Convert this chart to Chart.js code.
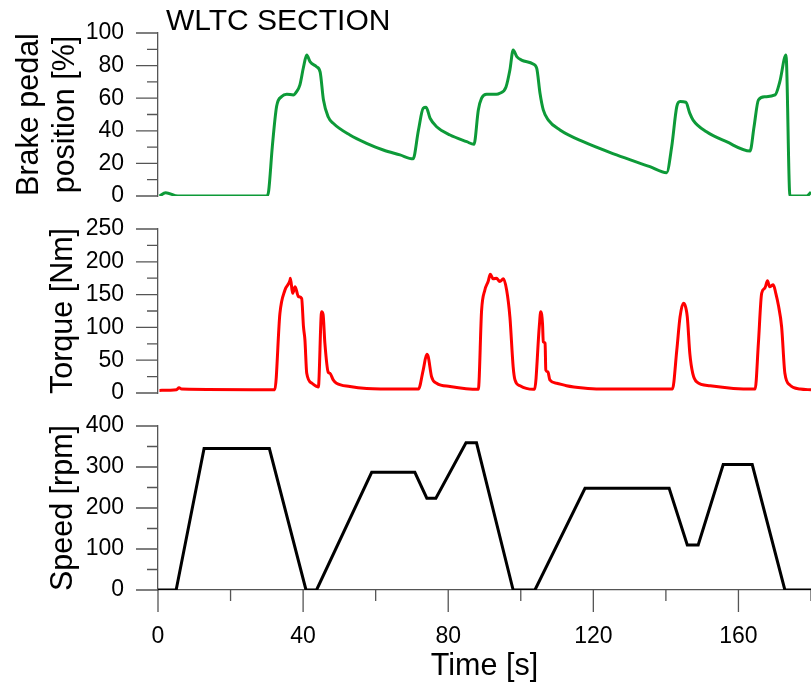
<!DOCTYPE html>
<html>
<head>
<meta charset="utf-8">
<script src="https://cdn.jsdelivr.net/npm/chart.js@4"></script>
<style>
  body { margin: 0; background: #fff; }
  #wrap { position: relative; width: 811px; height: 683px; overflow: hidden; }
  canvas { position: absolute; left: 0; }
  #label { position: absolute; left: 166px; top: 5px; font: 30px 'Liberation Sans', Arial, sans-serif; line-height: 30px; color: #000; }
</style>
</head>
<body>
<div id="wrap">
  <canvas id="brake" width="811" height="215" style="top:0"></canvas>
  <canvas id="torque" width="811" height="195" style="top:215px"></canvas>
  <canvas id="speed" width="811" height="273" style="top:410px"></canvas>
  <div id="label">WLTC SECTION</div>
</div>
<script>
"use strict";

// brake pedal position [%]
const brakeTime = [0.4, 2.1, 5.5, 30, 30.5, 31.5, 32.7, 34.1, 35.5, 37.3, 38.2, 39.1, 40.1, 41.0, 41.9, 43.7, 44.7, 45.6, 46.9, 48.3,
  52.9, 57.5, 62.1, 66.7, 70.3, 71.8, 73.1, 73.9, 75.0, 76.8, 80.5, 85.1, 87.1, 88.3, 89.2, 90.6, 93.3, 94.2, 95.9, 97,
  97.9, 98.9, 100.2, 103.4, 104.4, 105.3, 106.2, 107.6, 110.8, 117.2, 126.4, 135.6, 140.2, 141.6, 143, 143.9, 145.5, 146.6, 147.5, 151.2,
  156.7, 163.2, 164.3, 165.5, 167.3, 170.1, 171.4, 173.1, 174.2, 178.8, 180];
const brakePos = [0, 2, 0, 0, 3, 30, 55, 61, 62.5, 62, 64, 68, 79, 86.5, 82.4, 79.3, 76, 59, 48.6, 44.6,
  37.4, 32.3, 28.2, 25.2, 22.8, 40.5, 53.8, 54.4, 47.7, 42.5, 37.4, 33.3, 31.7, 52.8, 60, 62.4, 62.4, 63, 66.7, 77.3,
  89.6, 85.5, 83.4, 81, 78.3, 63, 52.8, 46.6, 40.5, 33.3, 25.2, 18, 14.3, 30.2, 54.8, 57.9, 57.5, 50.7, 46.6, 39.4,
  33.3, 27.6, 42.5, 58.9, 60.9, 62, 70.1, 86.5, 0, 0, 2.3];

// torque [Nm]
const torqueTime = [0.4, 5.1, 5.8, 6.5, 30, 32.2, 33.6, 35, 36.4, 36.5, 37.1, 37.8, 38.7, 39.6, 40.1, 40.5, 41, 42.4, 43.7, 44.2,
  45.1, 45.5, 46, 46.9, 47.4, 48.3, 49.2, 52.9, 57.5, 66.7, 71.8, 73.1, 74.1, 74.5, 75.4, 76.8, 80.5, 88.3, 89.2, 90.1,
  91, 91.6, 92.4, 93.3, 94.2, 95.2, 96.1, 97, 97.9, 98.4, 99.8, 103.4, 103.8, 105.1, 105.5, 106, 106.2, 106.7, 106.9, 107.5,
  108, 109.9, 112.6, 117.2, 121.8, 140.2, 141.8, 143, 143.9, 144.8, 145.2, 145.9, 146.6, 147.4, 148.5, 152.2, 158.6, 164.6, 165.5, 166.4,
  167.3, 168, 168.6, 169.6, 170.3, 171, 171.9, 172.8, 174.2, 177, 180];
const torque = [4, 5, 8, 6, 5, 5, 121, 157, 172, 175, 152, 162, 147, 144, 101, 81, 30, 15, 10, 9,
  124, 120, 76, 32, 30, 20, 15, 10, 7, 6, 6, 35, 59, 55, 25, 15, 10, 5.6, 126, 157,
  170, 181, 174, 175, 170, 174, 157, 116, 40, 20, 11, 5.6, 5.6, 101, 124, 105, 78, 76, 35, 32,
  20, 15, 11, 7.5, 6, 6, 6, 65, 116, 137, 135, 116, 60, 30, 17, 11, 7, 6, 76, 152,
  160, 171, 162, 165, 152, 134, 101, 30, 12, 6, 5];

// speed [rpm]
const speedTime = [0, 5, 12.7, 30.7, 40.8, 43.7, 58.9, 70.8, 74.1, 76.6, 84.9, 87.8, 97.9, 103.9, 117.7, 140.9, 145.9, 148.9, 155.8, 163.8, 172.8, 180];
const speed = [0, 0, 345, 345, 0, 0, 287, 287, 224, 224, 359, 359, 0, 0, 248, 248, 110, 110, 306, 306, 0, 0];

const xTicks = [0, 40, 80, 120, 160];

const axisColor = '#555';
const font = "'Liberation Sans', Arial, sans-serif";
Chart.defaults.font.family = font;
Chart.defaults.color = '#000';

const pts = (xs, ys) => xs.map((x, i) => ({x: x, y: ys[i]}));

// major/minor tick marks drawn off the scales
const tickMarks = {
  id: 'tickMarks',
  afterDraw(chart, args, opts) {
    const ctx = chart.ctx;
    ctx.save();
    ctx.strokeStyle = axisColor;
    ctx.lineWidth = 1.3;
    ctx.beginPath();
    ['x', 'y'].forEach(id => {
      const sc = chart.scales[id];
      const major = opts[id];
      if (!major || !sc.options.display) return;
      sc.ticks.forEach(t => {
        const p = sc.getPixelForValue(t.value);
        const len = Math.round(t.value) % major === 0 ? 22 : 11;
        if (sc.isHorizontal()) {
          ctx.moveTo(p, sc.top);
          ctx.lineTo(p, sc.top + len);
        } else {
          ctx.moveTo(sc.right - len, p);
          ctx.lineTo(sc.right, p);
        }
      });
    });
    ctx.stroke();
    ctx.restore();
  }
};

function panel(id, data, color, smooth, yMax, yStep, yMajor, title, titlePad, pad, showX) {
  return new Chart(document.getElementById(id), {
    type: 'line',
    data: {
      datasets: [{
        data: data,
        borderColor: color,
        borderWidth: 3,
        pointRadius: 0,
        fill: false,
        cubicInterpolationMode: smooth ? 'monotone' : 'default',
        tension: 0,
      }],
    },
    options: {
      responsive: false,
      animation: false,
      layout: {padding: pad},
      plugins: {
        legend: {display: false},
        tooltip: {enabled: false},
        tickMarks: {y: yMajor, x: showX ? 40 : 0},
      },
      scales: {
        x: {
          type: 'linear',
          min: 0,
          max: 180,
          display: showX,
          afterFit: s => { s.height = showX ? 93 : 0; },
          grid: {display: false, drawTicks: true, tickLength: 33},
          border: {display: true, color: axisColor, width: 1.3},
          ticks: {
            stepSize: 20,
            autoSkip: false,
            maxRotation: 0,
            padding: 0,
            font: {size: 23},
            callback: v => xTicks.includes(v) ? v : '',
          },
          title: {display: true, text: 'Time [s]', font: {size: 30.5, lineHeight: 1}, padding: {top: 0, bottom: 1}},
        },
        y: {
          min: 0,
          max: yMax,
          afterFit: s => { s.width = 158; },
          grid: {display: false, drawTicks: true, tickLength: 34},
          border: {display: true, color: axisColor, width: 1.3},
          ticks: {
            stepSize: yStep,
            autoSkip: false,
            padding: 0,
            font: {size: 23},
            callback: v => v % yMajor === 0 ? v : '',
          },
          title: {display: true, text: title, font: {size: 30.5, lineHeight: 1.18}, padding: {top: titlePad}},
        },
      },
    },
    plugins: [tickMarks],
  });
}

panel('brake', pts(brakeTime, brakePos), '#0d9a38', true, 100, 10, 20,
  ['Brake pedal', 'position [%]'], 12, {top: 33, bottom: 19, left: 0, right: 0}, false);
panel('torque', pts(torqueTime, torque), '#ff0000', true, 250, 25, 50,
  'Torque [Nm]', 46, {top: 14, bottom: 17, left: 0, right: 0}, false);
panel('speed', pts(speedTime, speed), '#000000', false, 400, 50, 100,
  'Speed [rpm]', 46, {top: 16, bottom: 0, left: 0, right: 0}, true);
</script>
</body>
</html>
